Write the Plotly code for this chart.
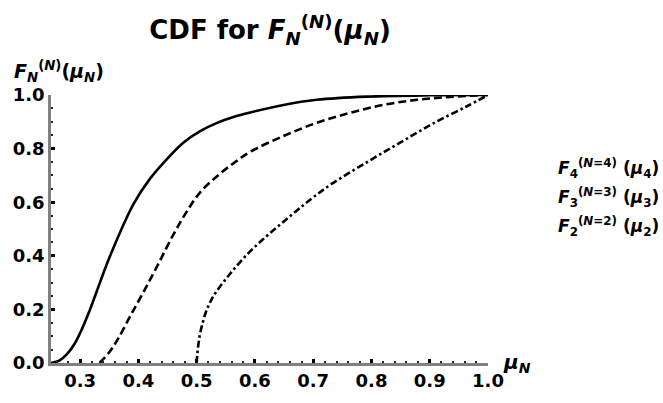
import plotly.graph_objects as go

# N=4 (solid)
mu4 = [0.25, 0.265, 0.277, 0.29, 0.300, 0.317, 0.334, 0.346, 0.369, 0.392, 0.420, 0.449, 0.477, 0.506, 0.535, 0.563, 0.592, 0.649, 0.706, 0.792, 0.9, 1.0]
F4 = [0.0, 0.01, 0.032, 0.07, 0.112, 0.20, 0.30, 0.37, 0.49, 0.595, 0.688, 0.761, 0.822, 0.865, 0.896, 0.918, 0.935, 0.963, 0.982, 0.994, 0.999, 1.0]
# N=3 (dashed)
mu3 = [0.3333, 0.35, 0.365, 0.386, 0.41, 0.434, 0.460, 0.483, 0.506, 0.535, 0.563, 0.592, 0.649, 0.706, 0.763, 0.820, 0.878, 0.935, 1.0]
F3 = [0.0, 0.04, 0.09, 0.175, 0.27, 0.369, 0.479, 0.565, 0.637, 0.697, 0.745, 0.788, 0.847, 0.896, 0.933, 0.963, 0.982, 0.993, 1.0]
# N=2 (dot-dashed)
mu2 = [0.5, 0.501, 0.503, 0.506, 0.511, 0.517, 0.525, 0.535, 0.557, 0.586, 0.614, 0.643, 0.672, 0.700, 0.733, 0.792, 0.849, 0.906, 0.963, 1.0]
F2 = [0.0, 0.03, 0.07, 0.111, 0.155, 0.197, 0.235, 0.27, 0.332, 0.404, 0.462, 0.516, 0.569, 0.618, 0.67, 0.749, 0.822, 0.894, 0.957, 1.0]

x_ticks = [0.3, 0.4, 0.5, 0.6, 0.7, 0.8, 0.9, 1.0]
y_ticks = [0.0, 0.2, 0.4, 0.6, 0.8, 1.0]
legend_labels = [
    "<b><i>F</i><sub>4</sub><sup>(<i>N</i>=4)</sup> (<i>μ</i><sub>4</sub>)</b>",
    "<b><i>F</i><sub>3</sub><sup>(<i>N</i>=3)</sup> (<i>μ</i><sub>3</sub>)</b>",
    "<b><i>F</i><sub>2</sub><sup>(<i>N</i>=2)</sup> (<i>μ</i><sub>2</sub>)</b>",
]

FONT = "DejaVu Sans, sans-serif"

fig = go.Figure()
line_common = dict(color="black", width=2.6, shape="spline", smoothing=1.0)
fig.add_trace(go.Scatter(x=mu4, y=F4, mode="lines", line=dict(**line_common)))
fig.add_trace(go.Scatter(x=mu3, y=F3, mode="lines", line=dict(**line_common, dash="8px,4px")))
fig.add_trace(go.Scatter(x=mu2, y=F2, mode="lines", line=dict(**line_common, dash="7px,3px,2.5px,3px")))

for i, lab in enumerate(legend_labels):
    fig.add_annotation(text=lab, xref="paper", yref="paper", x=1.155, y=0.725 - i * 0.107,
                       xanchor="left", yanchor="middle", showarrow=False,
                       font=dict(family=FONT, size=17, color="black"))

fig.add_annotation(text="<b><i>F</i><sub><i>N</i></sub><sup>(<i>N</i>)</sup>(<i>μ</i><sub><i>N</i></sub>)</b>",
                   xref="paper", yref="paper", x=-0.09, y=1.03, xanchor="left", yanchor="bottom",
                   showarrow=False, font=dict(family=FONT, size=19, color="black"))
fig.add_annotation(text="<b><i>μ</i><sub><i>N</i></sub></b>",
                   xref="paper", yref="paper", x=1.03, y=0.0, xanchor="left", yanchor="middle",
                   showarrow=False, font=dict(family=FONT, size=20, color="black"))

fig.update_layout(
    width=663, height=403,
    margin=dict(l=51, r=175, t=95, b=36),
    plot_bgcolor="white", paper_bgcolor="white",
    showlegend=False,
    title=dict(text="<b>CDF for <i>F</i><sub><i>N</i></sub><sup>(<i>N</i>)</sup>(<i>μ</i><sub><i>N</i></sub>)</b>",
               x=270 / 663, xanchor="center", y=0.925, yanchor="middle",
               font=dict(family=FONT, size=26, color="black")),
    xaxis=dict(range=[0.25, 1.0], tickvals=x_ticks, ticktext=[f"{v:.1f}" for v in x_ticks],
               showgrid=False, zeroline=False, showline=True, linecolor="#808080", linewidth=2.5,
               ticks="inside", ticklen=4, tickwidth=2.5, tickcolor="black",
               minor=dict(dtick=0.02, ticks="inside", ticklen=2, tickwidth=2, tickcolor="#222"),
               tickfont=dict(family=FONT, size=18, color="black", weight="bold")),
    yaxis=dict(range=[0.0, 1.0], tickvals=y_ticks, ticktext=[f"{v:.1f}" for v in y_ticks],
               showgrid=False, zeroline=False, showline=True, linecolor="#808080", linewidth=2.5,
               ticks="inside", ticklen=4, tickwidth=2.5, tickcolor="black",
               minor=dict(dtick=0.05, ticks="inside", ticklen=2, tickwidth=2, tickcolor="#222"),
               tickfont=dict(family=FONT, size=18, color="black", weight="bold")),
)

fig.write_html("out.html")
